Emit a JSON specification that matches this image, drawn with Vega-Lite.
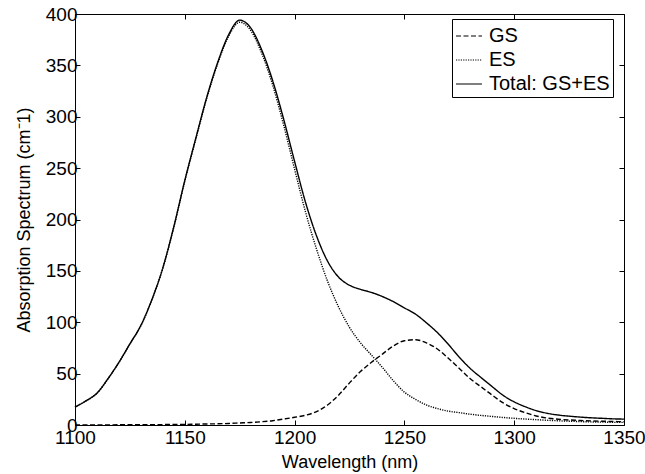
{
  "$schema": "https://vega.github.io/schema/vega-lite/v6.json",
  "width": 549,
  "height": 411,
  "autosize": {"type": "none"},
  "padding": {"left": 75, "top": 14, "right": 21, "bottom": 49},
  "background": "white",
  "config": {
    "font": "Liberation Sans",
    "view": {"stroke": "black", "strokeWidth": 1},
    "axis": {
      "grid": false, "domain": false, "tickColor": "black", "tickSize": -5,
      "labelColor": "black", "labelFontSize": 19, "labelFont": "Liberation Sans",
      "titleFont": "Liberation Sans", "titleFontWeight": "normal", "titleFontSize": 18,
      "titleColor": "black", "labelFlush": false, "labelOverlap": false, "format": "d"
    }
  },
  "data": {"values": [
    {"wl":1100,"series":"GS","v":0.1},{"wl":1105,"series":"GS","v":0.1},{"wl":1110,"series":"GS","v":0.1},{"wl":1115,"series":"GS","v":0.1},{"wl":1120,"series":"GS","v":0.2},{"wl":1125,"series":"GS","v":0.2},{"wl":1130,"series":"GS","v":0.3},{"wl":1135,"series":"GS","v":0.3},{"wl":1140,"series":"GS","v":0.4},{"wl":1145,"series":"GS","v":0.5},{"wl":1150,"series":"GS","v":0.6},{"wl":1155,"series":"GS","v":0.8},{"wl":1160,"series":"GS","v":1},{"wl":1165,"series":"GS","v":1.2},{"wl":1170,"series":"GS","v":1.5},{"wl":1175,"series":"GS","v":2},{"wl":1180,"series":"GS","v":2.5},{"wl":1185,"series":"GS","v":3.2},{"wl":1190,"series":"GS","v":4.2},{"wl":1195,"series":"GS","v":5.8},{"wl":1200,"series":"GS","v":7.5},{"wl":1205,"series":"GS","v":9.5},{"wl":1210,"series":"GS","v":13},{"wl":1215,"series":"GS","v":19.5},{"wl":1220,"series":"GS","v":29},{"wl":1225,"series":"GS","v":41},{"wl":1230,"series":"GS","v":52},{"wl":1235,"series":"GS","v":61},{"wl":1240,"series":"GS","v":69},{"wl":1245,"series":"GS","v":77},{"wl":1250,"series":"GS","v":82},{"wl":1255,"series":"GS","v":83},{"wl":1260,"series":"GS","v":80},{"wl":1265,"series":"GS","v":74},{"wl":1270,"series":"GS","v":65},{"wl":1275,"series":"GS","v":55},{"wl":1280,"series":"GS","v":45},{"wl":1285,"series":"GS","v":37},{"wl":1290,"series":"GS","v":29},{"wl":1295,"series":"GS","v":21.5},{"wl":1300,"series":"GS","v":16},{"wl":1305,"series":"GS","v":12},{"wl":1310,"series":"GS","v":8.8},{"wl":1315,"series":"GS","v":6.8},{"wl":1320,"series":"GS","v":5.6},{"wl":1325,"series":"GS","v":4.9},{"wl":1330,"series":"GS","v":4.4},{"wl":1335,"series":"GS","v":4},{"wl":1340,"series":"GS","v":3.7},{"wl":1345,"series":"GS","v":3.4},{"wl":1350,"series":"GS","v":3.2},
    {"wl":1100,"series":"ES","v":17.4},{"wl":1105,"series":"ES","v":23.4},{"wl":1110,"series":"ES","v":30.9},{"wl":1115,"series":"ES","v":44.9},{"wl":1120,"series":"ES","v":60.8},{"wl":1125,"series":"ES","v":78.8},{"wl":1130,"series":"ES","v":96.7},{"wl":1135,"series":"ES","v":121.7},{"wl":1140,"series":"ES","v":152.6},{"wl":1145,"series":"ES","v":192.5},{"wl":1150,"series":"ES","v":237.4},{"wl":1155,"series":"ES","v":278.2},{"wl":1160,"series":"ES","v":318},{"wl":1165,"series":"ES","v":351.8},{"wl":1170,"series":"ES","v":378.5},{"wl":1175,"series":"ES","v":392},{"wl":1180,"series":"ES","v":384},{"wl":1185,"series":"ES","v":362},{"wl":1190,"series":"ES","v":331},{"wl":1195,"series":"ES","v":292},{"wl":1200,"series":"ES","v":249},{"wl":1205,"series":"ES","v":207},{"wl":1210,"series":"ES","v":171},{"wl":1215,"series":"ES","v":140},{"wl":1220,"series":"ES","v":115},{"wl":1225,"series":"ES","v":95},{"wl":1230,"series":"ES","v":80},{"wl":1235,"series":"ES","v":68},{"wl":1240,"series":"ES","v":56},{"wl":1245,"series":"ES","v":43},{"wl":1250,"series":"ES","v":32},{"wl":1255,"series":"ES","v":25},{"wl":1260,"series":"ES","v":19.5},{"wl":1265,"series":"ES","v":16},{"wl":1270,"series":"ES","v":13.5},{"wl":1275,"series":"ES","v":12},{"wl":1280,"series":"ES","v":10.5},{"wl":1285,"series":"ES","v":9.3},{"wl":1290,"series":"ES","v":8.3},{"wl":1295,"series":"ES","v":7.3},{"wl":1300,"series":"ES","v":6.5},{"wl":1305,"series":"ES","v":5.8},{"wl":1310,"series":"ES","v":5.2},{"wl":1315,"series":"ES","v":4.6},{"wl":1320,"series":"ES","v":4.1},{"wl":1325,"series":"ES","v":3.7},{"wl":1330,"series":"ES","v":3.3},{"wl":1335,"series":"ES","v":3},{"wl":1340,"series":"ES","v":2.8},{"wl":1345,"series":"ES","v":2.6},{"wl":1350,"series":"ES","v":2.5},
    {"wl":1100,"series":"Total: GS+ES","v":17.5},{"wl":1105,"series":"Total: GS+ES","v":23.5},{"wl":1110,"series":"Total: GS+ES","v":31},{"wl":1115,"series":"Total: GS+ES","v":45},{"wl":1120,"series":"Total: GS+ES","v":61},{"wl":1125,"series":"Total: GS+ES","v":79},{"wl":1130,"series":"Total: GS+ES","v":97},{"wl":1135,"series":"Total: GS+ES","v":122},{"wl":1140,"series":"Total: GS+ES","v":153},{"wl":1145,"series":"Total: GS+ES","v":193},{"wl":1150,"series":"Total: GS+ES","v":238},{"wl":1155,"series":"Total: GS+ES","v":279},{"wl":1160,"series":"Total: GS+ES","v":319},{"wl":1165,"series":"Total: GS+ES","v":353},{"wl":1170,"series":"Total: GS+ES","v":380},{"wl":1175,"series":"Total: GS+ES","v":394},{"wl":1180,"series":"Total: GS+ES","v":386.5},{"wl":1185,"series":"Total: GS+ES","v":365.2},{"wl":1190,"series":"Total: GS+ES","v":335.2},{"wl":1195,"series":"Total: GS+ES","v":297.8},{"wl":1200,"series":"Total: GS+ES","v":256.5},{"wl":1205,"series":"Total: GS+ES","v":216.5},{"wl":1210,"series":"Total: GS+ES","v":184},{"wl":1215,"series":"Total: GS+ES","v":159.5},{"wl":1220,"series":"Total: GS+ES","v":144},{"wl":1225,"series":"Total: GS+ES","v":136},{"wl":1230,"series":"Total: GS+ES","v":132},{"wl":1235,"series":"Total: GS+ES","v":129},{"wl":1240,"series":"Total: GS+ES","v":125},{"wl":1245,"series":"Total: GS+ES","v":120},{"wl":1250,"series":"Total: GS+ES","v":114},{"wl":1255,"series":"Total: GS+ES","v":108},{"wl":1260,"series":"Total: GS+ES","v":99.5},{"wl":1265,"series":"Total: GS+ES","v":90},{"wl":1270,"series":"Total: GS+ES","v":78.5},{"wl":1275,"series":"Total: GS+ES","v":66},{"wl":1280,"series":"Total: GS+ES","v":55},{"wl":1285,"series":"Total: GS+ES","v":46},{"wl":1290,"series":"Total: GS+ES","v":37.3},{"wl":1295,"series":"Total: GS+ES","v":28.8},{"wl":1300,"series":"Total: GS+ES","v":22.5},{"wl":1305,"series":"Total: GS+ES","v":17.8},{"wl":1310,"series":"Total: GS+ES","v":14},{"wl":1315,"series":"Total: GS+ES","v":11.4},{"wl":1320,"series":"Total: GS+ES","v":9.7},{"wl":1325,"series":"Total: GS+ES","v":8.6},{"wl":1330,"series":"Total: GS+ES","v":7.7},{"wl":1335,"series":"Total: GS+ES","v":7},{"wl":1340,"series":"Total: GS+ES","v":6.5},{"wl":1345,"series":"Total: GS+ES","v":6},{"wl":1350,"series":"Total: GS+ES","v":5.7}
  ]},
  "layer": [
    {
      "mark": {"type": "line", "color": "black", "strokeWidth": 1.4, "interpolate": "monotone"},
      "encoding": {
        "x": {"field": "wl", "type": "quantitative",
              "scale": {"domain": [1100, 1350], "nice": false, "zero": false},
              "axis": {"title": "Wavelength (nm)", "values": [1100,1150,1200,1250,1300,1350], "labelPadding": 8, "titlePadding": 6}},
        "y": {"field": "v", "type": "quantitative",
              "scale": {"domain": [0, 400], "nice": false},
              "axis": {"title": "Absorption Spectrum (cm⁻1)", "values": [0,50,100,150,200,250,300,350,400], "labelPadding": 3, "titlePadding": 12}},
        "strokeDash": {"field": "series", "type": "nominal",
              "scale": {"domain": ["GS", "ES", "Total: GS+ES"], "range": [[5, 2.5], [1.2, 1.2], [1, 0]]},
              "legend": {"orient": "none", "legendX": 377, "legendY": 5, "title": null,
                         "strokeColor": "black", "fillColor": "white", "padding": 3,
                         "symbolType": "stroke", "symbolSize": 676, "symbolStrokeColor": "black",
                         "symbolStrokeWidth": 1.2, "labelFontSize": 20, "labelColor": "black",
                         "labelOffset": 6, "rowPadding": 0, "labelFont": "Liberation Sans"}}
      }
    },
    {
      "mark": {"type": "line", "strokeOpacity": 0},
      "encoding": {
        "x": {"field": "wl", "type": "quantitative",
              "scale": {"domain": [1100, 1350], "nice": false, "zero": false},
              "axis": {"orient": "top", "labels": false, "title": null, "values": [1100,1150,1200,1250,1300,1350]}},
        "y": {"field": "v", "type": "quantitative",
              "scale": {"domain": [0, 400], "nice": false},
              "axis": {"orient": "right", "labels": false, "title": null, "values": [0,50,100,150,200,250,300,350,400]}},
        "detail": {"field": "series", "type": "nominal"}
      }
    }
  ],
  "resolve": {"axis": {"x": "independent", "y": "independent"}}
}
